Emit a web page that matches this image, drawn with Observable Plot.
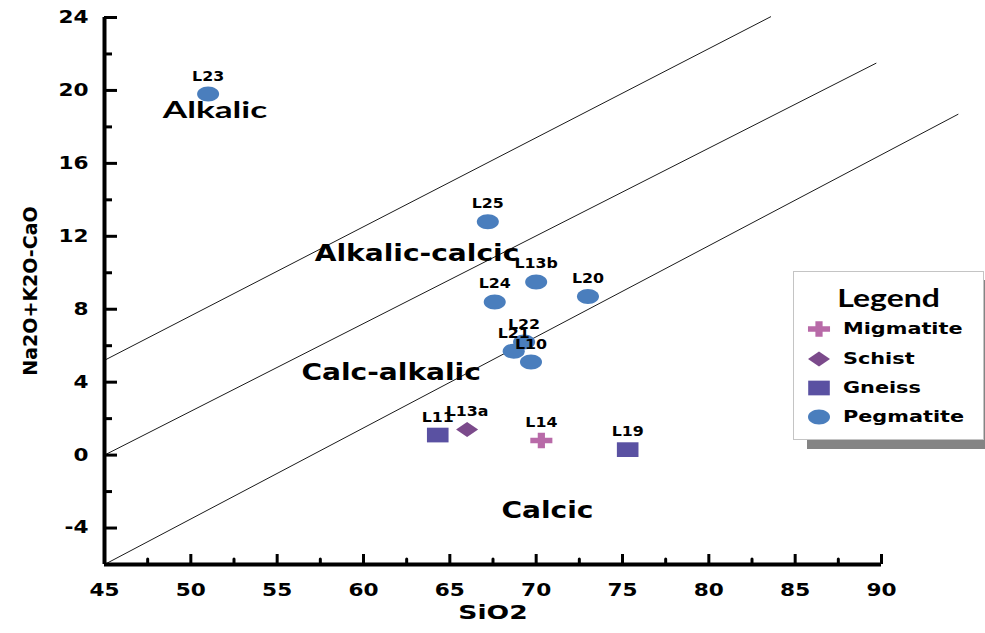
<!DOCTYPE html>
<html><head><meta charset="utf-8">
<script src="https://cdn.jsdelivr.net/npm/d3@7"></script>
<script src="https://cdn.jsdelivr.net/npm/@observablehq/plot@0.6"></script>
<style>
html,body{margin:0;padding:0;background:#fff;overflow:hidden;}
#wrap{position:relative;width:985px;height:633px;}
#legend{position:absolute;left:793px;top:271px;width:189px;height:167px;background:#fff;border:1px solid #c4c4c4;box-shadow:14px 9px 0 #848484;font-family:"DejaVu Sans";font-weight:bold;color:#000;}
#legend .title{position:absolute;left:0;width:189px;top:11px;text-align:center;font-family:Lato;font-size:24px;line-height:30px;}
#legend .title span{display:inline-block;transform:scaleX(1.33);}
#legend .row{position:absolute;left:0;height:20px;}
#legend .row svg{position:absolute;left:12px;top:0;}
#legend .row span{position:absolute;left:49px;top:0;line-height:20px;font-size:16px;white-space:nowrap;transform:scaleX(1.3);transform-origin:left center;}
</style>
</head><body>
<div id="wrap"></div>
<script>
// ---------- data ----------
const sampleLabels = ["L23","L25","L13b","L24","L20","L22","L21","L10","L11","L13a","L14","L19"];
const sio2Values   = [51.0, 67.2, 70.0, 67.6, 73.0, 69.3, 68.7, 69.7, 64.3, 66.0, 70.3, 75.3];
const alkValues    = [19.8, 12.8, 9.5, 8.4, 8.7, 6.2, 5.7, 5.1, 1.1, 1.4, 0.8, 0.3];
const rockTypes    = ["Pegmatite","Pegmatite","Pegmatite","Pegmatite","Pegmatite","Pegmatite","Pegmatite","Pegmatite","Gneiss","Schist","Migmatite","Gneiss"];
const typeNames    = ["Migmatite","Schist","Gneiss","Pegmatite"];
const typeColors   = ["#b86aa8","#7b4a8b","#5a51a2","#4a7ebd"];
const regionNames  = ["Alkalic","Alkalic-calcic","Calc-alkalic","Calcic"];
const regionX      = [51.4, 63.1, 61.6, 70.65];
const regionY      = [18.9, 11.07, 4.5, -3.07];
const boundX1 = [45, 45, 45];
const boundY1 = [5.2, 0, -6];
const boundX2 = [83.6, 89.7, 94.45];
const boundY2 = [24.05, 21.5, 18.7];
const xMajorTicks = [45,50,55,60,65,70,75,80,85,90];
const xMinorTicks = [47.5,52.5,57.5,62.5,67.5,72.5,77.5,82.5,87.5];
const yLabelTicks = [-4,0,4,8,12,16,20,24];
const yMinorTicks = [-2,2,6,10,14,18,22];
const xTitle = "SiO2";
const yTitle = "Na2O+K2O-CaO";
const legendTitle = "Legend";

// ---------- tables ----------
const points = sampleLabels.map((name, i) => ({name, x: sio2Values[i], y: alkValues[i], type: rockTypes[i]}));
const regions = regionNames.map((name, i) => ({name, x: regionX[i], y: regionY[i]}));
const bounds = boundX1.map((x1, i) => ({x1, y1: boundY1[i], x2: boundX2[i], y2: boundY2[i]}));

// ---------- stretched symbols ----------
const SX = 1.47;
const rOf = size => Math.sqrt(size / Math.PI);
const ellipseSym = {draw(c, size){const r=rOf(size), rx=r*SX, ry=r, k=0.5523;
  c.moveTo(rx,0); c.bezierCurveTo(rx,ry*k,rx*k,ry,0,ry); c.bezierCurveTo(-rx*k,ry,-rx,ry*k,-rx,0);
  c.bezierCurveTo(-rx,-ry*k,-rx*k,-ry,0,-ry); c.bezierCurveTo(rx*k,-ry,rx,-ry*k,rx,0); c.closePath();}};
const squareSym = {draw(c, size){const r=rOf(size)*0.98; c.moveTo(-r*SX,-r); c.lineTo(r*SX,-r); c.lineTo(r*SX,r); c.lineTo(-r*SX,r); c.closePath();}};
const diamondSym = {draw(c, size){const r=rOf(size); c.moveTo(0,-r); c.lineTo(r*SX,0); c.lineTo(0,r); c.lineTo(-r*SX,0); c.closePath();}};
const plusSym = {draw(c, size){const r=rOf(size), hx=r*SX, hy=r*1.04, ty=r*0.36, tx=r*0.48;
  c.moveTo(-tx,-hy); c.lineTo(tx,-hy); c.lineTo(tx,-ty); c.lineTo(hx,-ty); c.lineTo(hx,ty); c.lineTo(tx,ty);
  c.lineTo(tx,hy); c.lineTo(-tx,hy); c.lineTo(-tx,ty); c.lineTo(-hx,ty); c.lineTo(-hx,-ty); c.lineTo(-tx,-ty); c.closePath();}};
const typeSymbols = [plusSym, diamondSym, squareSym, ellipseSym];

const plot = Plot.plot({
  width: 985, height: 633,
  marginLeft: 104, marginRight: 104, marginTop: 17, marginBottom: 69,
  x: {domain: [45, 90]},
  y: {domain: [-6, 24]},
  color: {domain: typeNames, range: typeColors},
  symbol: {domain: typeNames, range: typeSymbols},
  style: {fontFamily: "DejaVu Sans", fontWeight: "bold", fontSize: "17px", color: "#000", background: "#fff", overflow: "visible"},
  marks: [
    Plot.link(bounds, {x1: "x1", y1: "y1", x2: "x2", y2: "y2", stroke: "#1a1a1a", strokeWidth: 1}),
    Plot.text(regions.filter(d => d.name === "Alkalic"), {x: "x", y: "y", text: "name", fontFamily: "Lato", fontSize: 22, fontWeight: "bold", ariaDescription: "region-alk"}),
    Plot.text(regions.filter(d => d.name !== "Alkalic"), {x: "x", y: "y", text: "name", fontSize: 23, fontWeight: "bold", ariaDescription: "regions"}),
    Plot.dot(points, {x: "x", y: "y", symbol: "type", fill: "type", r: 7.5}),
    Plot.text(points, {x: "x", y: "y", text: "name", dy: -18, fontSize: 14, fontWeight: "bold", ariaDescription: "pt-labels"}),
    Plot.ruleX([45], {strokeWidth: 4, stroke: "#000"}),
    Plot.ruleY([-6], {strokeWidth: 4, stroke: "#000"}),
    Plot.axisX(xMajorTicks, {tickSize: -10, strokeWidth: 3, fill: "none", label: null}),
    Plot.axisX(xMinorTicks, {tickSize: -5, strokeWidth: 3, strokeLinecap: "round", fill: "none", label: null}),
    Plot.axisX(xMajorTicks, {tickSize: 0, tickPadding: 19, label: null, fontSize: 17, tickFormat: d => String(d)}),
    Plot.axisY(yLabelTicks, {tickSize: -13, strokeWidth: 3, fill: "none", label: null}),
    Plot.axisY(yMinorTicks, {tickSize: -8, strokeWidth: 3, fill: "none", label: null}),
    Plot.axisY(yLabelTicks, {tickSize: 0, tickPadding: 16, label: null, fontSize: 17, tickFormat: d => String(d)}),
    Plot.text([xTitle], {text: d => d, frameAnchor: "bottom", dy: 54, fontSize: 19, fontWeight: "bold", ariaDescription: "xtitle"}),
    Plot.text([yTitle], {text: d => d, frameAnchor: "left", textAnchor: "middle", dx: -74, rotate: -90, fontSize: 19, fontWeight: "bold", ariaDescription: "ytitle"})
  ]
});
const wrap = document.getElementById("wrap");
wrap.appendChild(plot);

function stretch(sel, k) {
  plot.querySelectorAll(sel).forEach(t => {
    const L = t.getComputedTextLength();
    t.setAttribute("textLength", (L * k).toFixed(1));
    t.setAttribute("lengthAdjust", "spacingAndGlyphs");
  });
}
stretch('g[aria-label="y-axis tick label"] text', 1.27);
stretch('g[aria-label="x-axis tick label"] text', 1.27);
stretch('g[aria-description="pt-labels"] text', 1.13);
stretch('g[aria-description="regions"] text', 1.22);
stretch('g[aria-description="region-alk"] text', 1.6);
stretch('g[aria-description="xtitle"] text', 1.4);

// ---------- legend ----------
const legend = d3.select(wrap).append("div").attr("id", "legend");
legend.append("div").attr("class", "title").append("span").text(legendTitle);
const rowTops = [47, 77, 106, 135];
typeNames.forEach((name, i) => {
  const row = legend.append("div").attr("class", "row").style("top", rowTops[i] + "px");
  const s = row.append("svg").attr("width", 26).attr("height", 20);
  s.append("path").attr("transform", "translate(13,10)")
    .attr("d", d3.symbol(typeSymbols[i], Math.PI * 7.5 * 7.5)())
    .attr("fill", typeColors[i]);
  row.append("span").text(name);
});
</script>
</body></html>
